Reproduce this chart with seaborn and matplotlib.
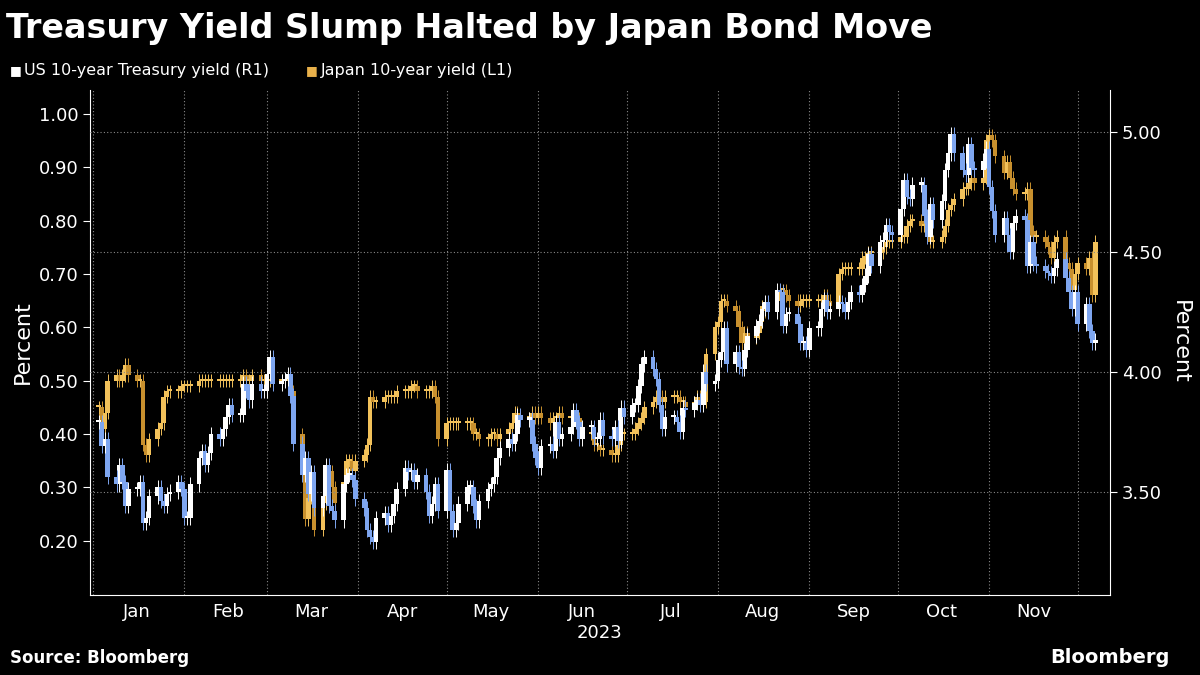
import numpy as np
import pandas as pd
import matplotlib
matplotlib.use("Agg")
import matplotlib.pyplot as plt
import matplotlib.dates as mdates
import seaborn as sns

# weekly groups of daily closes, weeks starting Monday 2023-01-02
week_starts = pd.date_range("2023-01-02", periods=49, freq="7D")
us_weeks = [
 [3.79,3.69,3.72,3.56],[3.53,3.61,3.54,3.44,3.51],[3.51,3.54,3.37,3.39,3.48],[3.52,3.46,3.44,3.49,3.50],
 [3.54,3.51,3.39,3.39,3.53],[3.64,3.67,3.61,3.66,3.74],[3.72,3.76,3.81,3.86,3.82],[3.82,3.95,3.92,3.88,3.95],
 [3.92,3.92,3.99,4.06,3.95],[3.96,3.97,3.99,3.90,3.70],[3.57,3.64,3.49,3.58,3.43],[3.48,3.61,3.44,3.42,3.38],
 [3.53,3.57,3.57,3.55,3.47],[3.43,3.34,3.31,3.29,3.39],[3.41,3.36,3.40,3.45,3.51],[3.60,3.58,3.59,3.54,3.57],
 [3.50,3.40,3.45,3.53,3.42],[3.59,3.42,3.34,3.37,3.45],[3.52,3.52,3.44,3.38,3.46],[3.51,3.53,3.56,3.64,3.68],
 [3.72,3.70,3.74,3.82,3.80],[3.80,3.70,3.64,3.60,3.69],[3.70,3.67,3.79,3.72,3.74],[3.77,3.84,3.79,3.72,3.77],
 [3.77,3.72,3.72,3.80,3.73],[3.72,3.77,3.71,3.85,3.81],[3.86,3.86,3.94,4.03,4.06],[4.01,3.97,3.86,3.76,3.81],
 [3.81,3.79,3.75,3.85,3.84],[3.87,3.88,3.86,4.00,3.95],[3.96,4.05,4.08,4.18,4.03],[4.08,4.02,4.01,4.09,4.15],
 [4.19,4.21,4.26,4.29,4.25],[4.34,4.33,4.19,4.24,4.24],[4.20,4.12,4.12,4.09,4.18],[4.18,4.26,4.30,4.25,4.26],
 [4.29,4.28,4.25,4.29,4.33],[4.32,4.36,4.40,4.49,4.44],[4.54,4.55,4.61,4.58,4.57],[4.68,4.80,4.73,4.72,4.78],
 [4.78,4.65,4.56,4.70,4.63],[4.71,4.84,4.91,4.99,4.91],[4.84,4.82,4.95,4.85,4.84],[4.88,4.93,4.77,4.67,4.57],
 [4.64,4.57,4.50,4.62,4.65],[4.63,4.44,4.54,4.45,4.44],[4.42,4.41,4.40,4.43,4.47],[4.39,4.33,4.26,4.33,4.20],
 [4.28,4.17,4.12,4.13],
]
jp_weeks = [
 [0.45,0.41,0.44,0.50],[0.51,0.50,0.51,0.53,0.51],[0.50,0.50,0.38,0.36,0.39],[0.41,0.42,0.47,0.48,0.48],
 [0.48,0.49,0.49,0.49,0.49],[0.50,0.50,0.50,0.50,0.50],[0.50,0.50,0.50,0.50,0.50],[0.50,0.51,0.50,0.50,0.51],
 [0.50,0.50,0.50,0.50,0.50],[0.50,0.50,0.50,0.48,0.40],[0.35,0.24,0.28,0.29,0.22],[0.27,0.29,0.33,0.30,0.27],
 [0.31,0.35,0.35,0.33,0.35],[0.36,0.38,0.47,0.46,0.46],[0.47,0.47,0.47,0.47,0.48],[0.48,0.48,0.49,0.49,0.48],
 [0.48,0.48,0.49,0.47,0.39],[0.42,0.42,0.42,0.42,0.42],[0.42,0.42,0.40,0.40,0.39],[0.39,0.40,0.40,0.39,0.40],
 [0.41,0.42,0.44,0.43,0.43],[0.43,0.44,0.43,0.44,0.43],[0.42,0.43,0.43,0.44,0.43],[0.43,0.43,0.43,0.41,0.40],
 [0.40,0.38,0.38,0.37,0.37],[0.36,0.36,0.38,0.40,0.40],[0.40,0.41,0.42,0.43,0.45],[0.46,0.47,0.47,0.46,0.47],
 [0.47,0.47,0.46,0.46,0.45],[0.46,0.47,0.46,0.46,0.55],[0.60,0.61,0.65,0.65,0.64],[0.63,0.60,0.57,0.59,0.58],
 [0.59,0.61,0.64,0.63,0.64],[0.65,0.67,0.67,0.66,0.65],[0.64,0.65,0.65,0.65,0.65],[0.65,0.65,0.66,0.65,0.64],
 [0.70,0.71,0.71,0.71,0.71],[0.71,0.73,0.73,0.74,0.74],[0.74,0.75,0.76,0.76,0.76],[0.77,0.77,0.79,0.80,0.80],
 [0.79,0.79,0.78,0.76,0.76],[0.77,0.79,0.82,0.83,0.84],[0.86,0.86,0.87,0.88,0.87],[0.88,0.95,0.96,0.95,0.92],
 [0.89,0.91,0.88,0.86,0.85],[0.85,0.86,0.78,0.77,0.77],[0.76,0.75,0.73,0.76,0.77],[0.72,0.71,0.67,0.70,0.72],
 [0.71,0.73,0.66,0.76],
]
left_ticks = [0.20,0.30,0.40,0.50,0.60,0.70,0.80,0.90,1.00]
right_ticks = [3.50,4.00,4.50,5.00]
month_labels = ["Jan","Feb","Mar","Apr","May","Jun","Jul","Aug","Sep","Oct","Nov"]

def build(weeks):
    dates, closes = [], []
    for ws, vals in zip(week_starts, weeks):
        offset = 1 if ws == week_starts[0] else 0
        for i, v in enumerate(vals):
            dates.append(ws + pd.Timedelta(days=i + offset))
            closes.append(v)
    df = pd.DataFrame({"date": dates, "close": closes})
    df["open"] = df["close"].shift(1).fillna(df["close"])
    return df

us = build(us_weeks)
jp = build(jp_weeks)

sns.set_style("dark", {"axes.facecolor": "black", "figure.facecolor": "black"})
plt.rcParams["font.family"] = "DejaVu Sans"
fig = plt.figure(figsize=(12, 6.75), dpi=100, facecolor="black")
ax = fig.add_axes([0.075, 0.119, 0.85, 0.748], facecolor="black")
ax2 = ax.twinx()

def candles(a, df, up, down, wick):
    x = mdates.date2num(df["date"])
    o, c = df["open"].values, df["close"].values
    hi = np.maximum(o, c) + wick
    lo = np.minimum(o, c) - wick
    col = np.where(c >= o, up, down)
    a.vlines(x, lo, hi, colors=col, linewidth=0.7)
    h = np.abs(c - o)
    h = np.where(h < wick * 0.3, wick * 0.3, h)
    a.bar(x, h, bottom=np.minimum(o, c), width=1.6, color=col, linewidth=0)

candles(ax, jp, "#f2c15a", "#c8902e", 0.012)
candles(ax2, us, "#ffffff", "#7ea6f0", 0.03)

ax.set_ylim(0.099, 1.045)
ax2.set_ylim(3.07, 5.175)
ax.set_xlim(mdates.date2num(pd.Timestamp("2022-12-31")), mdates.date2num(pd.Timestamp("2023-12-12")))

ax.set_yticks(left_ticks)
ax.set_yticklabels([f"{t:.2f}" for t in left_ticks])
ax2.set_yticks(right_ticks)
ax2.set_yticklabels([f"{t:.2f}" for t in right_ticks])
ax2.grid(axis="y", color="#888888", linestyle=(0, (1, 2)), linewidth=0.8)
ax.grid(axis="x", which="major", color="#888888", linestyle=(0, (1, 2)), linewidth=0.8)
ax.grid(axis="y", visible=False)

ax.xaxis.set_major_locator(mdates.MonthLocator())
ax.xaxis.set_major_formatter(plt.NullFormatter())
mids = [pd.Timestamp(2023, m, 16) for m in range(1, 12)]
ax.set_xticks(mdates.date2num(mids), minor=True)
ax.set_xticklabels(month_labels, minor=True)
ax.tick_params(axis="x", which="minor", length=0, colors="white", labelsize=13, pad=6)
ax.tick_params(axis="x", which="major", length=5, color="white", direction="out")
for a in (ax, ax2):
    a.tick_params(axis="y", colors="white", labelsize=13, length=5)
    for s in a.spines.values():
        s.set_visible(False)
ax.spines["bottom"].set_visible(True)
ax.spines["bottom"].set_color("white")
ax.spines["left"].set_visible(True)
ax.spines["left"].set_color("white")
ax2.spines["right"].set_visible(True)
ax2.spines["right"].set_color("white")

ax.set_ylabel("Percent", color="white", fontsize=16)
ax2.set_ylabel("Percent", color="white", fontsize=16, rotation=270, labelpad=20)
fig.text(0.5, 0.062, "2023", color="white", fontsize=13, ha="center", va="center")

fig.text(0.005, 0.958, "Treasury Yield Slump Halted by Japan Bond Move", color="white",
         fontsize=24, fontweight="bold", va="center")
fig.text(0.008, 0.895, "\u25A0", color="white", fontsize=9, va="center")
fig.text(0.02, 0.895, "US 10-year Treasury yield (R1)", color="white", fontsize=11.5, va="center")
fig.text(0.255, 0.895, "\u25A0", color="#e8b04a", fontsize=9, va="center")
fig.text(0.267, 0.895, "Japan 10-year yield (L1)", color="white", fontsize=11.5, va="center")
fig.text(0.008, 0.018, "Source: Bloomberg", color="white", fontsize=12, fontweight="bold")
fig.text(0.975, 0.018, "Bloomberg", color="white", fontsize=14, fontweight="bold", ha="right")

fig.savefig("out.png", dpi=100, facecolor="black")
